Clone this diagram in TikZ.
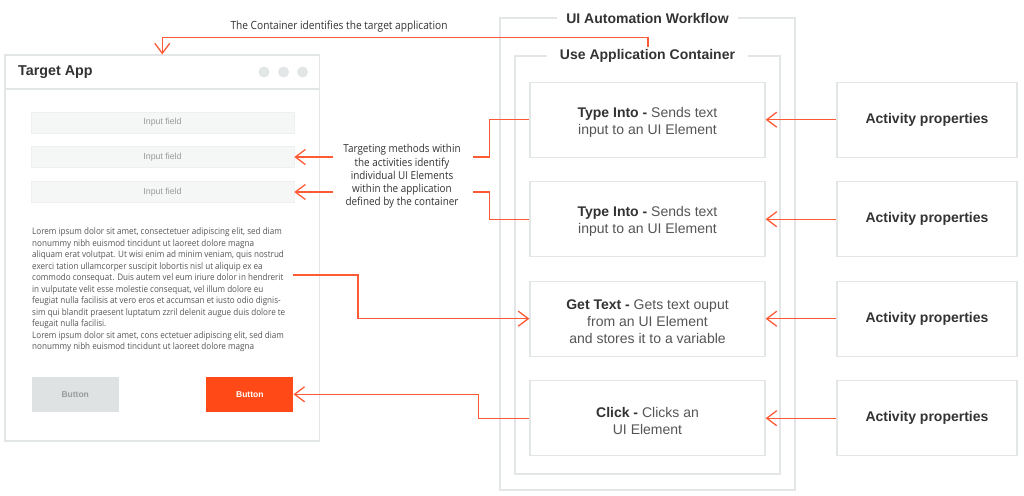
\documentclass[tikz,border=0pt]{standalone}
\usepackage{fontspec}
\setmainfont{Liberation Sans}
\newfontfamily\annfont[FakeStretch=0.9]{Open Sans}
\usetikzlibrary{arrows.meta}
\definecolor{accent}{HTML}{FF5A36}
\definecolor{btnorange}{HTML}{FF4A17}
\definecolor{frame}{HTML}{E3E6E6}
\definecolor{fieldfill}{HTML}{F5F6F6}
\definecolor{btngray}{HTML}{DFE2E2}
\definecolor{darktext}{HTML}{333333}
\definecolor{midtext}{HTML}{555555}
\definecolor{lighttext}{HTML}{9A9A9A}
\begin{document}
\begin{tikzpicture}[x=1pt,y=-1pt,
  frm/.style={draw=frame, line width=1.3pt},
  actbox/.style={frm, minimum width=235pt, minimum height=75pt, inner sep=0pt},
  acttext/.style={align=center, font=\fontsize{14}{17}\selectfont, text=midtext, inner sep=0pt},
  propbox/.style={frm, minimum width=180pt, minimum height=75pt,
    font=\fontsize{14}{17}\selectfont\bfseries, text=darktext, inner sep=0pt},
  field/.style={fill=fieldfill, draw=frame!60, line width=0.6pt, minimum width=263pt,
    minimum height=21pt, inner sep=0pt, font=\fontsize{8.8}{10}\selectfont, text=lighttext},
  btn/.style={minimum width=87pt, minimum height=34.6pt, inner sep=0pt,
    font=\fontsize{8.5}{10}\selectfont\bfseries},
  wtitle/.style={fill=white, inner ysep=2pt, font=\fontsize{14}{17}\selectfont\bfseries, text=darktext},
  wire/.style={draw=accent, line width=1.3pt},
  conn/.style={wire, -{Straight Barb[length=10pt,width=15pt,line width=1.3pt]}},
  ann/.style={font=\annfont\fontsize{11}{13.3}\selectfont, text=darktext, inner sep=0pt, align=center},
  dot/.style={fill=frame}
]
\fill[white] (0,0) rectangle (1024,495);
\useasboundingbox (0,0) rectangle (1024,495);

% workflow frames
\draw[frm] (500,18) rectangle (795,490);
\node[wtitle, inner xsep=9.5pt] (wf) at (647.5,18) {UI Automation Workflow};
\draw[frm] (515,56) rectangle (780,474);
\node[wtitle, inner xsep=12.5pt] (cont) at (647.5,56) {Use Application Container};

% activity boxes
\node[actbox] (a1) at (647.5,119.7) {};
\node[actbox] (a2) at (647.5,219.2) {};
\node[actbox] (a3) at (647.5,318.7) {};
\node[actbox] (a4) at (647.5,418.2) {};
\node[acttext] (t1) at ([yshift=-2.5pt]a1.center) {\textbf{\color{darktext}Type Into -} Sends text\\input to an UI Element};
\node[acttext] (t2) at ([yshift=-2.5pt]a2.center) {\textbf{\color{darktext}Type Into -} Sends text\\input to an UI Element};
\node[acttext] (t3) at ([yshift=-2.5pt]a3.center) {\textbf{\color{darktext}Get Text -} Gets text ouput\\from an UI Element\\and stores it to a variable};
\node[acttext] (t4) at ([yshift=-2.5pt]a4.center) {\textbf{\color{darktext}Click -} Clicks an\\UI Element};

% property boxes
\node[propbox] (p1) at (927,119.7) {Activity properties};
\node[propbox] (p2) at (927,219.2) {Activity properties};
\node[propbox] (p3) at (927,318.7) {Activity properties};
\node[propbox] (p4) at (927,418.2) {Activity properties};

% target app window
\node[frm, minimum width=314.5pt, minimum height=386pt, inner sep=0pt] (win) at (162.25,248) {};
\draw[frm] (win.west |- 0,89) -- (win.east |- 0,89);
\node[anchor=west, inner sep=0pt, font=\fontsize{14.3}{17}\selectfont\bfseries, text=darktext] (wintitle) at (18,72.5) {Target App};
\fill[dot] (264,72) circle (5.5pt);
\fill[dot] (283.5,72) circle (5.5pt);
\fill[dot] (302.5,72) circle (5.5pt);

\node[field] (f1) at (162.5,122.5) {\raisebox{-1pt}{Input field}};
\node[field] (f2) at (162.5,157) {\raisebox{-1pt}{Input field}};
\node[field] (f3) at (162.5,192) {\raisebox{-1pt}{Input field}};

\node[anchor=north west, inner sep=0pt, align=left, text=midtext,
  font=\annfont\fontsize{9}{11.5}\selectfont] (lorem) at (32,227.5) {%
Lorem ipsum dolor sit amet, consectetuer adipiscing elit, sed diam\\
nonummy nibh euismod tincidunt ut laoreet dolore magna\\
aliquam erat volutpat. Ut wisi enim ad minim veniam, quis nostrud\\
exerci tation ullamcorper suscipit lobortis nisl ut aliquip ex ea\\
commodo consequat. Duis autem vel eum iriure dolor in hendrerit\\
in vulputate velit esse molestie consequat, vel illum dolore eu\\
feugiat nulla facilisis at vero eros et accumsan et iusto odio dignis-\\
sim qui blandit praesent luptatum zzril delenit augue duis dolore te\\
feugait nulla facilisi.\\
Lorem ipsum dolor sit amet, cons ectetuer adipiscing elit, sed diam\\
nonummy nibh euismod tincidunt ut laoreet dolore magna};

\node[btn, fill=btngray, text=lighttext] (b1) at (75.25,394.3) {Button};
\node[btn, fill=btnorange, text=white] (b2) at (249.8,394.3) {Button};

% annotations
\node[ann, font=\annfont\fontsize{11.3}{13.3}\selectfont] (topann) at (339,27) {The Container identifies the target application};
\node[ann] (midann) at (402,176.5) {Targeting methods within\\the activities identify\\individual UI Elements\\within the application\\defined by the container};

% connectors
\coordinate (topstart) at (648,47);
\draw[conn] (topstart) -- ++(0,-9.5) -| (win.north);

\coordinate (m1r) at (473,157);
\coordinate (m2r) at (473,192);
\coordinate (m1l) at (333,157);
\coordinate (m2l) at (333,192);
\draw[wire] (a1.west) -- ++(-40,0) |- (m1r);
\draw[wire] (a2.west) -- ++(-40,0) |- (m2r);
\draw[conn] (m1l) -- (f2.east);
\draw[conn] (m2l) -- (f3.east);

\coordinate (gt) at (293,275);
\draw[conn] (gt) -- ++(65,0) |- (a3.west);
\draw[conn] (a4.west) -- ++(-51,0) |- (b2.east);

\draw[conn] (p1.west) -- (a1.east);
\draw[conn] (p2.west) -- (a2.east);
\draw[conn] (p3.west) -- (a3.east);
\draw[conn] (p4.west) -- (a4.east);
\end{tikzpicture}
\end{document}
